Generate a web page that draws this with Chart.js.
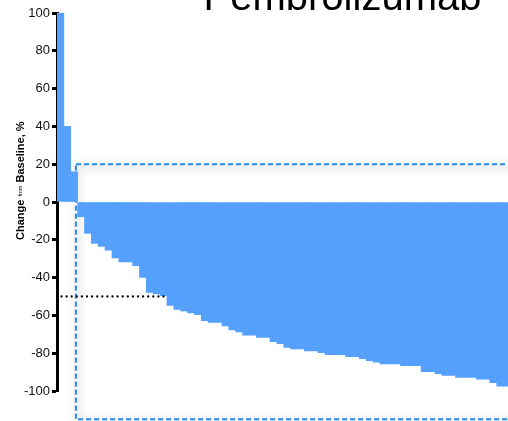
<!DOCTYPE html>
<html>
<head>
<meta charset="utf-8">
<script src="https://cdn.jsdelivr.net/npm/chart.js@4/dist/chart.umd.min.js"></script>
<style>
  html, body { margin: 0; padding: 0; background: #ffffff; overflow: hidden; }
  #wrap { position: relative; width: 508px; height: 421px; overflow: hidden; }
  canvas { display: block; }
</style>
</head>
<body>
<div id="wrap"><canvas id="c" width="508" height="421"></canvas></div>
<script>
// ---- data ----
const chartTitle = 'Pembrolizumab';
const yTitleParts = ['Change ', 'from', ' Baseline, %'];

const patients = [
  1, 2, 3, 4, 5, 6, 7, 8, 9, 10, 11, 12, 13, 14, 15, 16, 17, 18, 19, 20, 21, 22,
  23, 24, 25, 26, 27, 28, 29, 30, 31, 32, 33, 34, 35, 36, 37, 38, 39, 40, 41, 42, 43, 44,
  45, 46, 47, 48, 49, 50, 51, 52, 53, 54, 55, 56, 57, 58, 59, 60, 61, 62, 63, 64, 65, 66
];

const changePct = [
  100, 40, 16, -7.8, -16.6, -21.9, -23.5, -25.5, -29.6, -31.7, -31.7, -33.7, -39.9,
  -47.8, -48.7, -49.6, -54.7, -56.8, -57.7, -58.7, -59.6, -62.8, -63.7, -63.7, -65.6,
  -67.7, -68.8, -70.5, -70.5, -71.6, -71.6, -73.9, -75.0, -76.9, -77.8, -77.8, -78.8,
  -78.8, -79.7, -80.8, -80.8, -80.8, -81.8, -81.8, -82.9, -84.0, -84.8, -85.7, -85.7,
  -85.7, -86.6, -86.6, -86.6, -89.8, -89.8, -90.8, -91.7, -91.7, -92.8, -92.8, -92.8,
  -93.7, -93.7, -95.6, -97.4, -97.4
];

const yTickValues = [-100, -80, -60, -40, -20, 0, 20, 40, 60, 80, 100];

// reference marks (in data units)
const responseThreshold = -50;      // dotted line
const thresholdEndIndex = 15.5;     // dotted line ends at first bar below threshold
const boxLeftIndex = 2.25;          // dashed box left edge
const boxTop = 20;                  // dashed box top
const boxBottom = -115;             // dashed box bottom

// ---- styling ----
const FONT = '"Liberation Sans", Arial, Helvetica, sans-serif';
const barColor = '#55a0fc';
const boxColor = '#2b8ae6';

const boxPlugin = {
  id: 'refBox',
  beforeDatasetsDraw(chart) {
    const ctx = chart.ctx, xs = chart.scales.x, ys = chart.scales.y;
    const l = xs.getPixelForValue(boxLeftIndex);
    const t = ys.getPixelForValue(boxTop);
    const b = ys.getPixelForValue(boxBottom);
    const r = chart.width + 20;
    ctx.save();
    ctx.shadowColor = 'rgba(0,0,0,0.30)';
    ctx.shadowBlur = 8;
    ctx.shadowOffsetX = 2;
    ctx.shadowOffsetY = 2;
    ctx.strokeStyle = '#ffffff';
    ctx.lineWidth = 2;
    ctx.strokeRect(l, t, r - l, b - t);
    ctx.restore();
    ctx.save();
    ctx.strokeStyle = boxColor;
    ctx.lineWidth = 2;
    ctx.setLineDash([5.3, 2.7]);
    ctx.strokeRect(l, t, r - l, b - t);
    ctx.restore();
  }
};

const overlayPlugin = {
  id: 'overlay',
  afterDatasetsDraw(chart) {
    const ctx = chart.ctx, xs = chart.scales.x, ys = chart.scales.y;
    const y = ys.getPixelForValue(responseThreshold);
    ctx.save();
    ctx.strokeStyle = '#000';
    ctx.lineWidth = 2.3;
    ctx.lineCap = 'round';
    ctx.setLineDash([0, 5.1]);
    ctx.beginPath();
    ctx.moveTo(chart.chartArea.left + 4.5, y);
    ctx.lineTo(xs.getPixelForValue(thresholdEndIndex), y);
    ctx.stroke();
    ctx.restore();
  },
  afterDraw(chart) {
    const ctx = chart.ctx;
    // title (cropped at top as in the reference)
    ctx.save();
    ctx.fillStyle = '#000';
    ctx.font = '40px ' + FONT;
    ctx.textAlign = 'center';
    ctx.textBaseline = 'alphabetic';
    ctx.fillText(chartTitle, 342.5, 10);
    ctx.restore();
    // y axis title with small "from"
    ctx.save();
    ctx.translate(24, 240);
    ctx.rotate(-Math.PI / 2);
    ctx.fillStyle = '#000';
    ctx.textAlign = 'left';
    ctx.textBaseline = 'alphabetic';
    let x = 0;
    ctx.font = 'bold 11px ' + FONT;
    ctx.fillText(yTitleParts[0], x, 0);
    x += ctx.measureText(yTitleParts[0]).width;
    ctx.font = '5.5px ' + FONT;
    ctx.fillText(yTitleParts[1], x, -2.3);
    x += ctx.measureText(yTitleParts[1]).width;
    ctx.font = 'bold 11px ' + FONT;
    ctx.fillText(yTitleParts[2], x, 0);
    ctx.restore();
  }
};

new Chart(document.getElementById('c'), {
  type: 'bar',
  data: {
    labels: patients,
    datasets: [{
      data: changePct.map((v, i) => ({ x: i, y: v })),
      backgroundColor: barColor,
      borderWidth: 0,
      barPercentage: 1,
      categoryPercentage: 1
    }]
  },
  options: {
    responsive: false,
    animation: false,
    layout: { padding: { top: 13, bottom: 30, left: 0, right: 0 } },
    plugins: {
      legend: { display: false },
      title: { display: false },
      tooltip: { enabled: false }
    },
    scales: {
      x: {
        type: 'linear',
        display: false,
        min: -0.5,
        max: 65.14,
        offset: false
      },
      y: {
        min: -100,
        max: 100,
        afterBuildTicks: s => { s.ticks = yTickValues.map(v => ({ value: v })); },
        afterFit: s => { s.width = 57; },
        border: { display: true, color: '#000', width: 3 },
        grid: {
          drawOnChartArea: false,
          drawTicks: true,
          tickLength: 5,
          tickWidth: 3,
          tickColor: '#000'
        },
        ticks: {
          color: '#111',
          padding: 2,
          font: { family: FONT, size: 13 }
        }
      }
    }
  },
  plugins: [boxPlugin, overlayPlugin]
});
</script>
</body>
</html>
